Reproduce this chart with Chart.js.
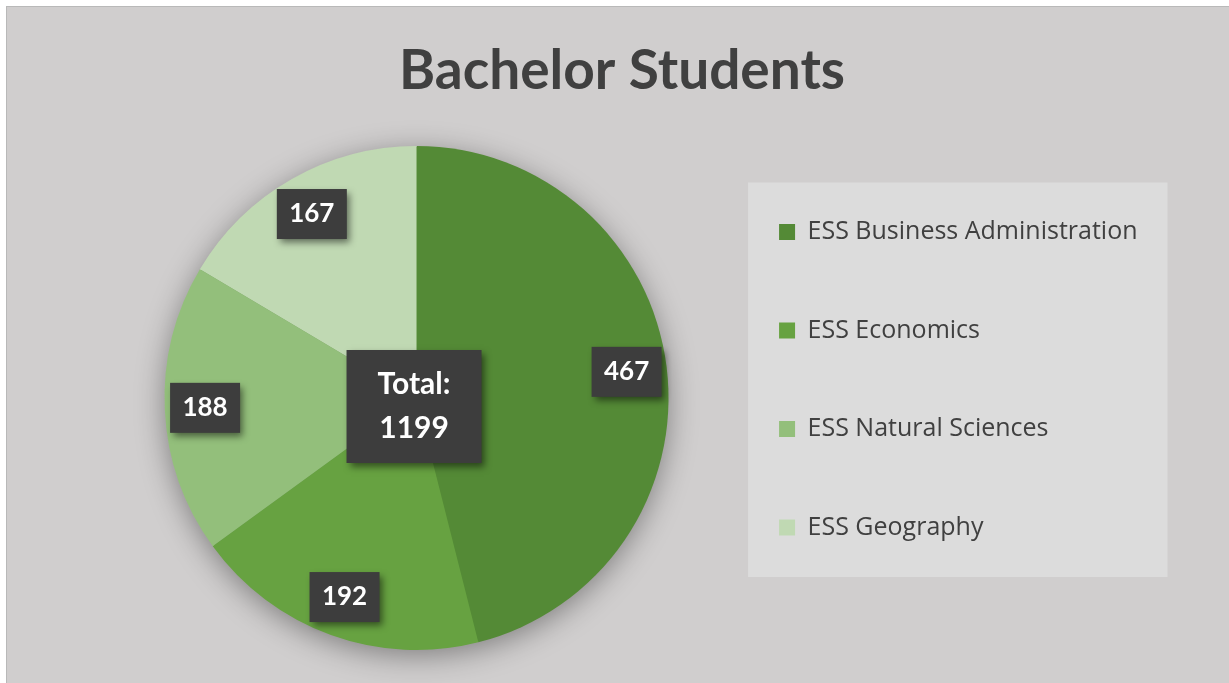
<!DOCTYPE html>
<html>
<head>
<meta charset="utf-8">
<title>Bachelor Students</title>
<script src="https://cdn.jsdelivr.net/npm/chart.js@4.4.1/dist/chart.umd.min.js"></script>
<style>
  html, body { margin: 0; padding: 0; background: #ffffff; overflow: hidden; }
  #frame {
    position: absolute; left: 6px; top: 6px; width: 1240px; height: 700px;
    background: #d0cece; border-left: 1px solid #b9b9b9; border-top: 1px solid #b9b9b9;
  }
  #chart { position: absolute; left: 0; top: 0; }
</style>
</head>
<body>
<div id="frame"></div>
<canvas id="chart" width="1229" height="683"></canvas>
<script>
// Chart data
const categories = ['ESS Business Administration', 'ESS Economics', 'ESS Natural Sciences', 'ESS Geography'];
const studentCounts = [467, 192, 188, 167];
const totalStudents = 1199;
const sliceColors = ['#548a36', '#67a241', '#93bf7b', '#c0d9b3'];

Chart.defaults.font.family = 'Lato';

// empty box on the left so the title can be centred over the whole frame
// (display:false keeps it out of the legend's max width calculation)
const leftGap = {
    id: 'leftGap',
    beforeInit(chart) {
        Chart.layouts.addBox(chart, {
            position: 'left',
            weight: 0,
            fullSize: false,
            options: { display: false },
            update(maxWidth, maxHeight) {
                this.width = 31;
                this.height = maxHeight;
            },
            isHorizontal() { return false; },
            draw() {}
        });
    }
};

// light panel behind the legend
const legendPanel = {
    id: 'legendPanel',
    beforeDraw(chart) {
        const boxes = chart.legend && chart.legend.legendHitBoxes;
        if (!boxes || !boxes.length) return;
        const first = boxes[0];
        const last = boxes[boxes.length - 1];
        const right = Math.max(...boxes.map(b => b.left + b.width));
        const ctx = chart.ctx;
        ctx.save();
        ctx.fillStyle = '#dcdcdc';
        ctx.fillRect(first.left - 31, first.top - 37, right - first.left + 61, last.top + last.height - first.top + 74);
        ctx.restore();
    }
};

// soft shadow under the whole pie
const pieShadow = {
    id: 'pieShadow',
    beforeDatasetsDraw(chart) {
        const arc = chart.getDatasetMeta(0).data[0];
        if (!arc) return;
        const { x, y, outerRadius } = arc.getProps(['x', 'y', 'outerRadius'], true);
        const ctx = chart.ctx;
        ctx.save();
        ctx.shadowColor = 'rgba(0, 0, 0, 0.4)';
        ctx.shadowBlur = 30;
        ctx.shadowOffsetY = 6;
        ctx.fillStyle = sliceColors[0];
        ctx.beginPath();
        ctx.arc(x, y, outerRadius - 1, 0, Math.PI * 2);
        ctx.fill();
        ctx.restore();
    }
};

function drawTag(ctx, lines, cx, cy, w, h, lineGap) {
    ctx.save();
    ctx.shadowColor = 'rgba(0, 0, 0, 0.5)';
    ctx.shadowBlur = 7;
    ctx.shadowOffsetX = 3;
    ctx.shadowOffsetY = 4;
    ctx.fillStyle = '#3d3d3d';
    ctx.fillRect(cx - w / 2, cy - h / 2, w, h);
    ctx.restore();
    ctx.fillStyle = '#ffffff';
    const top = cy - (lines.length - 1) * lineGap / 2;
    lines.forEach((line, i) => ctx.fillText(line, cx, top + i * lineGap));
}

// value tags on the slices and the total in the middle
const valueLabels = {
    id: 'valueLabels',
    afterDatasetsDraw(chart) {
        const arcs = chart.getDatasetMeta(0).data;
        if (!arcs.length) return;
        const ctx = chart.ctx;
        ctx.save();
        ctx.textAlign = 'center';
        ctx.textBaseline = 'middle';
        ctx.font = 'bold 26px Lato';
        arcs.forEach((arc, i) => {
            const { x, y, startAngle, endAngle, outerRadius } =
                arc.getProps(['x', 'y', 'startAngle', 'endAngle', 'outerRadius'], true);
            const mid = (startAngle + endAngle) / 2;
            const lx = x + Math.cos(mid) * outerRadius * 0.84;
            const ly = y + Math.sin(mid) * outerRadius * 0.84;
            drawTag(ctx, [String(studentCounts[i])], lx, ly, 70, 50, 0);
        });
        const { x, y } = arcs[0].getProps(['x', 'y'], true);
        ctx.font = 'bold 30px Lato';
        drawTag(ctx, ['Total:', String(totalStudents)], x - 2.5, y + 8.5, 135, 113, 44);
        ctx.restore();
    }
};

const ctx = document.getElementById('chart').getContext('2d');
new Chart(ctx, {
    type: 'pie',
    data: {
        labels: categories,
        datasets: [{
            data: studentCounts,
            backgroundColor: sliceColors,
            borderWidth: 0
        }]
    },
    options: {
        responsive: false,
        animation: false,
        events: [],
        layout: {
            padding: { left: 96.5, right: 81.5, top: 0, bottom: 33 }
        },
        plugins: {
            title: {
                display: true,
                text: 'Bachelor Students',
                color: '#404040',
                font: { family: 'Lato', size: 55, weight: 'bold', lineHeight: 1.2 },
                padding: { top: 38, bottom: 42 }
            },
            legend: {
                position: 'right',
                align: 'start',
                fullSize: false,
                labels: {
                    boxWidth: 16,
                    boxHeight: 16,
                    padding: 73.5,
                    color: '#404040',
                    font: { family: 'Open Sans', size: 25 }
                }
            },
            tooltip: { enabled: false }
        }
    },
    plugins: [leftGap, legendPanel, pieShadow, valueLabels]
});
</script>
</body>
</html>
